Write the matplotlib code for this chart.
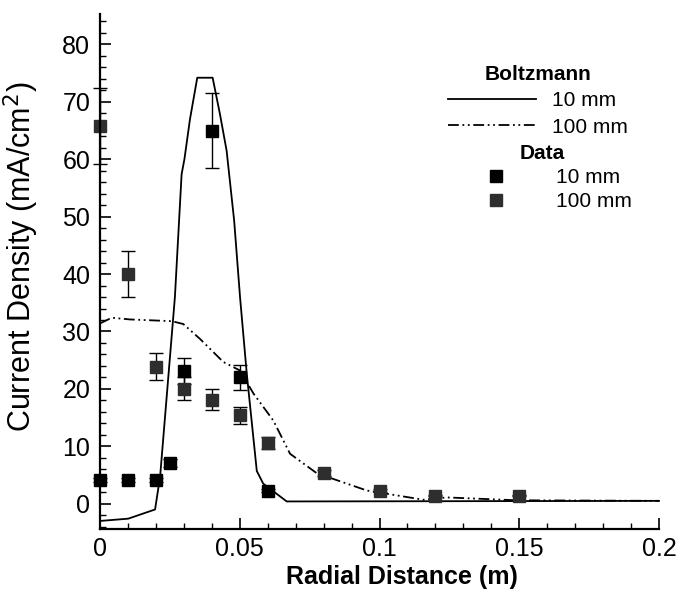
import numpy as np
import matplotlib
matplotlib.use('Agg')
from matplotlib import pyplot as plt
from matplotlib.ticker import MultipleLocator
from matplotlib.lines import Line2D

plt.rcParams['font.family'] = ['Liberation Sans', 'DejaVu Sans']

# Boltzmann model curves
boltz_x_10 = [0.0, 0.0101, 0.0197, 0.0215, 0.0268, 0.0292, 0.0302, 0.0322, 0.0348,
              0.0403, 0.0429, 0.0453, 0.048, 0.0501, 0.0525, 0.0561, 0.0584, 0.0668, 0.2]
boltz_y_10 = [-3.0, -2.6, -1.0, 4.7, 36.0, 57.4, 60.0, 67.0, 74.2,
              74.2, 67.9, 61.5, 49.3, 36.0, 22.7, 5.7, 3.5, 0.4, 0.5]

boltz_x_100 = [0.0, 0.0042, 0.0107, 0.0257, 0.0298, 0.0358, 0.0441, 0.0501, 0.0549,
               0.062, 0.068, 0.0776, 0.0955, 0.1157, 0.1241, 0.149, 0.2]
boltz_y_100 = [31.4, 32.4, 32.1, 31.8, 31.3, 28.7, 24.7, 23.2, 19.2,
               14.5, 8.7, 5.3, 2.3, 0.7, 1.1, 0.6, 0.5]

# measured data
data_x_10 = [0.0, 0.01, 0.02, 0.025, 0.03, 0.04, 0.05, 0.06]
data_y_10 = [4.1, 4.1, 4.1, 7.1, 23.1, 65.0, 22.0, 2.3]
data_err_10 = [0.4, 0.4, 0.4, 0.7, 2.3, 6.5, 2.2, 0.2]

data_x_100 = [0.0, 0.01, 0.02, 0.03, 0.04, 0.05, 0.06, 0.08, 0.1, 0.12, 0.15]
data_y_100 = [65.8, 40.0, 23.9, 20.0, 18.1, 15.4, 10.6, 5.3, 2.3, 1.4, 1.4]
data_err_100 = [6.6, 4.0, 2.4, 2.0, 1.8, 1.5, 1.1, 0.5, 0.2, 0.1, 0.1]

c100 = '#2e2e2e'

fig = plt.figure(figsize=(6.81, 5.94), dpi=100)
ax = fig.add_axes([100/681, 1 - 529/594, 559/681, 515/594])

l1, = ax.plot(boltz_x_10, boltz_y_10, color='black', lw=1.3, label='10 mm')
l2, = ax.plot(boltz_x_100, boltz_y_100, color='black', lw=1.3,
              linestyle=(0, (6, 2, 1, 2, 1, 2)), label='100 mm')

ax.errorbar(data_x_10, data_y_10, yerr=data_err_10, fmt='s', color='black',
            ms=9, capsize=5, elinewidth=1.0, capthick=1.0)
ax.errorbar(data_x_100, data_y_100, yerr=data_err_100, fmt='s', mfc=c100,
            mec=c100, ecolor='black', ms=9, capsize=5, elinewidth=1.0, capthick=1.0)
for c in ax.get_children():
    c.set_clip_on(False)

ax.set_xlim(0, 0.2)
ax.set_ylim(-4.4, 85.3)
ax.xaxis.set_minor_locator(MultipleLocator(0.01))
ax.yaxis.set_major_locator(MultipleLocator(10))
ax.yaxis.set_minor_locator(MultipleLocator(2))
ax.set_xticks([0, 0.05, 0.1, 0.15, 0.2], ['0', '0.05', '0.1', '0.15', '0.2'])

ax.spines['top'].set_visible(False)
ax.spines['right'].set_visible(False)
ax.spines['left'].set_linewidth(1.6)
ax.spines['bottom'].set_linewidth(1.6)
ax.tick_params(which='major', direction='in', length=8, width=1.2, labelsize=18)
ax.tick_params(which='minor', direction='in', length=4, width=1.0)
ax.tick_params(axis='y', pad=7)
ax.tick_params(axis='x', pad=6)

ax.set_xlabel('Radial Distance (m)', fontsize=18, fontweight='bold')
ax.xaxis.set_label_coords(0.54, -0.07)
ax.set_ylabel('Current Density (mA/cm$^2$)', fontsize=22)
ax.yaxis.set_label_coords(-0.105, 0.528)

h1 = Line2D([], [], marker='s', ls='none', color='black', ms=9)
h2 = Line2D([], [], marker='s', ls='none', color=c100, ms=9)

leg_kw = dict(loc='upper left', bbox_transform=fig.transFigure, frameon=False,
              fontsize=15, title_fontproperties={'weight': 'bold', 'size': 15},
              handlelength=4.2, handletextpad=0.8, borderpad=0, borderaxespad=0)
leg1 = ax.legend(handles=[l1, l2], title='Boltzmann', labelspacing=0.35,
                 bbox_to_anchor=(448/681, 1 - 65/594), **leg_kw)
ax.add_artist(leg1)
ax.legend(handles=[h1, h2], labels=['10 mm', '100 mm'], title='Data', labelspacing=0.25,
          bbox_to_anchor=(452/681, 1 - 144/594), **leg_kw)

fig.savefig('out.png', dpi=100)
